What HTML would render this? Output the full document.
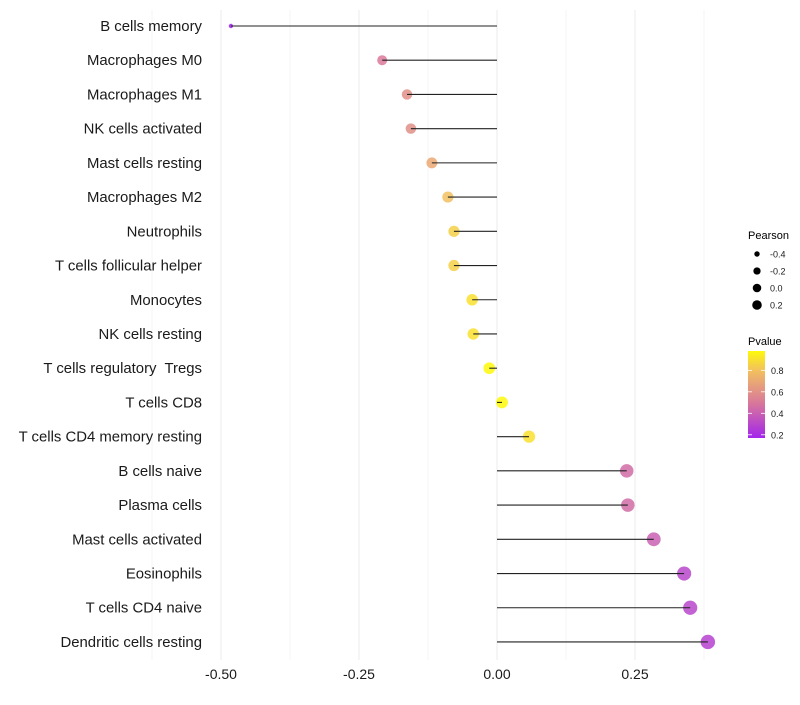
<!DOCTYPE html>
<html><head><meta charset="utf-8"><style>
body{margin:0;background:#fff;font-family:"Liberation Sans",sans-serif}
text{white-space:pre}
</style></head><body>
<svg id="chart" width="800" height="700"></svg>
<script>
const categories=["B cells memory","Macrophages M0","Macrophages M1","NK cells activated","Mast cells resting","Macrophages M2","Neutrophils","T cells follicular helper","Monocytes","NK cells resting","T cells regulatory  Tregs","T cells CD8","T cells CD4 memory resting","B cells naive","Plasma cells","Mast cells activated","Eosinophils","T cells CD4 naive","Dendritic cells resting"];
const pearson=[-0.482,-0.208,-0.163,-0.156,-0.118,-0.089,-0.078,-0.078,-0.045,-0.043,-0.014,0.009,0.058,0.235,0.237,0.284,0.339,0.35,0.382];
const pvalues=[0.15,0.5,0.6,0.6,0.7,0.8,0.85,0.85,0.9,0.9,0.98,0.98,0.9,0.45,0.45,0.4,0.3,0.3,0.28];
const xTicks=[-0.5,-0.25,0,0.25];
const xTickLabels=["-0.50","-0.25","0.00","0.25"];
const sizeLegend=[-0.4,-0.2,0.0,0.2];
const colorLegend=[0.8,0.6,0.4,0.2];

const NS="http://www.w3.org/2000/svg";
const svg=document.getElementById('chart');
function mk(t,a,p){const e=document.createElementNS(NS,t);for(const k in a)e.setAttribute(k,a[k]);(p||svg).appendChild(e);return e;}
const x=v=>497+v*552;
const y=i=>26+i*34.22;
const r=v=>2.2+5*Math.sqrt(Math.max(0,(v+0.482)/0.864));
const stops=[[0.15,[160,32,240]],[0.5,[217,121,154]],[0.8,[242,192,96]],[1.0,[255,255,0]]];
function col(p){p=Math.max(0.15,Math.min(1,p));for(let i=0;i<stops.length-1;i++){const[a,ca]=stops[i],[b,cb]=stops[i+1];if(p<=b){const t=(p-a)/(b-a);return `rgb(${ca.map((c,j)=>Math.round(c+(cb[j]-c)*t)).join(',')})`;}}return 'rgb(255,255,0)';}

for(let k=-5;k<=3;k++){const v=k*0.125;const major=k%2===0;
 const g=mk('line',{x1:x(v),x2:x(v),y1:10,y2:660,stroke:major?'#ebebeb':'#f3f3f3','stroke-width':major?1:0.7});
 }

categories.forEach((c,i)=>{
 const t=mk('text',{x:202,y:y(i)+5,'text-anchor':'end','font-size':14.9,fill:'#1a1a1a'});t.textContent=c;
 
 const d=mk('circle',{cx:x(pearson[i]),cy:y(i),r:r(pearson[i]),fill:col(pvalues[i]),'fill-opacity':0.85});
 
 const l=mk('line',{x1:x(0),x2:x(pearson[i]),y1:y(i),y2:y(i),stroke:'#222','stroke-width':1.1});
 
});
xTicks.forEach((v,i)=>{const t=mk('text',{x:x(v),y:679,'text-anchor':'middle','font-size':14,fill:'#1a1a1a'});t.textContent=xTickLabels[i];
 });

const lt=mk('text',{x:748,y:239,'font-size':11,fill:'#000'});lt.textContent='Pearson';

sizeLegend.forEach((v,i)=>{const cy=254+i*17;
 const c=mk('circle',{cx:757,cy:cy,r:r(v)*0.72,fill:'#000'});
 const t=mk('text',{x:770,y:cy+3.5,'font-size':9,fill:'#1a1a1a'});t.textContent=v.toFixed(1);
 });

const ct=mk('text',{x:748,y:345,'font-size':11,fill:'#000'});ct.textContent='Pvalue';

const defs=mk('defs',{});const lg=mk('linearGradient',{id:'pg',x1:0,y1:1,x2:0,y2:0},defs);
const pTop=0.98,pBot=0.17,cbTop=351,cbBot=438;
for(let k=0;k<=10;k++){const p=pBot+(pTop-pBot)*k/10;mk('stop',{offset:k/10,'stop-color':col(p)},lg);}
const cb=mk('rect',{x:748,y:cbTop,width:17,height:cbBot-cbTop,fill:'url(#pg)'});

const py=p=>cbBot-(p-pBot)/(pTop-pBot)*(cbBot-cbTop);
colorLegend.forEach(p=>{
 mk('line',{x1:748,x2:752,y1:py(p),y2:py(p),stroke:'#fff','stroke-width':0.8});
 mk('line',{x1:761,x2:765,y1:py(p),y2:py(p),stroke:'#fff','stroke-width':0.8});
 const t=mk('text',{x:771,y:py(p)+3.5,'font-size':9,fill:'#1a1a1a'});t.textContent=p.toFixed(1);
 });
</script>
</body></html>
